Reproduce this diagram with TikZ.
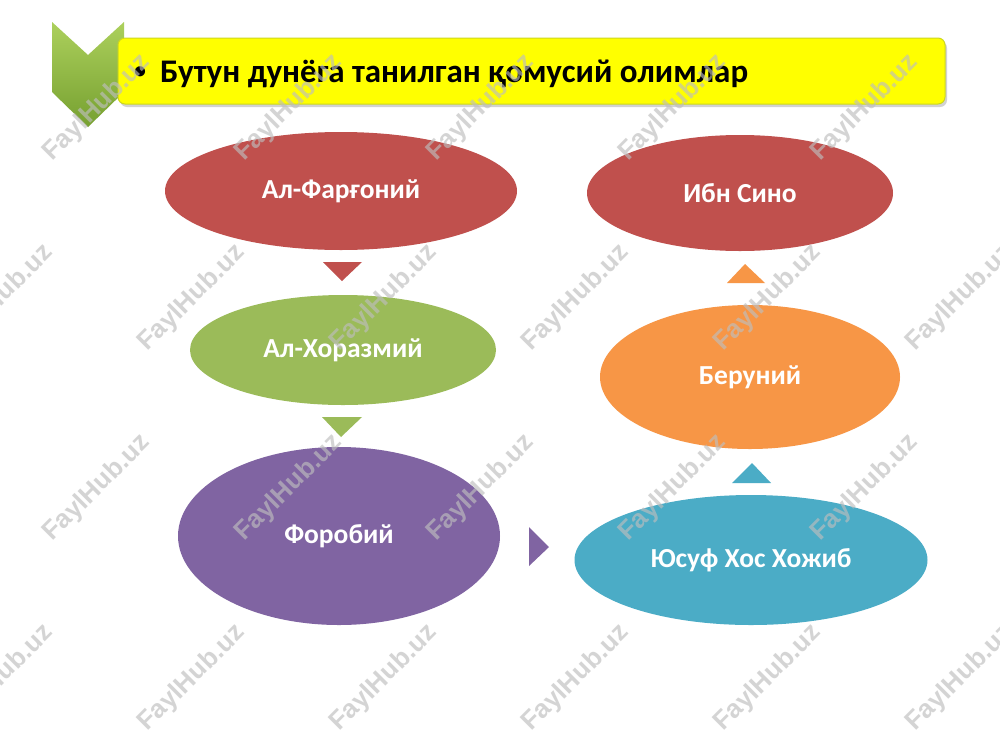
\documentclass[tikz,border=0pt]{standalone}
\usepackage{fontspec}
\setmainfont{Carlito}
\newfontfamily\wmfont{Liberation Sans}
\usetikzlibrary{shapes.geometric,shadows}
\definecolor{cred}{RGB}{192,80,77}
\definecolor{cgreen}{RGB}{155,187,89}
\definecolor{cpurple}{RGB}{128,100,162}
\definecolor{corange}{RGB}{247,150,70}
\definecolor{cteal}{RGB}{75,172,198}
\definecolor{cyellow}{RGB}{255,255,0}
\definecolor{cyborder}{RGB}{205,215,30}
\definecolor{chevtop}{RGB}{172,208,92}
\definecolor{chevbot}{RGB}{118,160,48}
\definecolor{wmgray}{RGB}{190,190,190}
\tikzset{
  blob/.style={ellipse, inner sep=0pt, text=white, font=\fontsize{27.5}{30}\selectfont\bfseries},
  wm/.style={text=wmgray, opacity=0.65, rotate=45, font=\wmfont\fontsize{26}{28}\selectfont\bfseries, inner sep=0pt}
}
\begin{document}
\begin{tikzpicture}[x=1pt,y=-1pt]
\useasboundingbox (0,0) rectangle (1000,750);
\fill[white] (0,0) rectangle (1000,750);
% chevron
\shade[top color=chevtop, bottom color=chevbot] (52,22) -- (88,55) -- (124,22) -- (124,92) -- (88,127) -- (52,92) -- cycle;
% header bar
\node[draw=cyborder, line width=1pt, fill=cyellow, rounded corners=7pt, minimum width=827pt, minimum height=66pt, inner sep=0pt,
  drop shadow={opacity=0.35, shadow xshift=2pt, shadow yshift=-3pt}] (bar) at (531.5,71) {};
\node[anchor=base west, inner sep=0pt, font=\fontsize{24}{26}\selectfont\bfseries] (bul) at (134,78) {\textbullet};
\node[anchor=base west, inner sep=0pt, font=\fontsize{33}{36}\selectfont\bfseries] (title) at (160,82) {Бутун дунёга танилган қомусий олимлар};
% ellipses
\node[blob, fill=cred, minimum width=352pt, minimum height=118pt] (farg) at (341,191) {Ал-Фарғоний};
\node[blob, fill=cgreen, minimum width=306pt, minimum height=110pt] (xor) at (343,350) {Ал-Хоразмий};
\node[blob, fill=cpurple, minimum width=322pt, minimum height=178pt] (forob) at (339,536) {Форобий};
\node[blob, fill=cteal, minimum width=353pt, minimum height=130pt] (yusuf) at (751,560) {Юсуф Хос Хожиб};
\node[blob, fill=corange, minimum width=300pt, minimum height=144pt] (ber) at (750,377) {Беруний};
\node[blob, fill=cred, minimum width=306pt, minimum height=116pt] (ibn) at (740,193) {Ибн Сино};
% arrow triangles
\fill[cred] (323,262) -- (362,262) -- (342,281) -- cycle;
\fill[cgreen] (322,417) -- (362,417) -- (341,437) -- cycle;
\fill[cpurple] (529,527) -- (549,547) -- (529,566) -- cycle;
\fill[cteal] (732,483) -- (771,483) -- (752,463) -- cycle;
\fill[corange] (727,283) -- (765,283) -- (745,264) -- cycle;
% watermarks
\foreach \y in {108,488}{
  \foreach \x in {97,289,481,673,865}{
    \node[wm] at (\x,\y) {FaylHub.uz};
  }
}
\foreach \y in {298,678}{
  \foreach \x in {0,192,384,576,768,960}{
    \node[wm] at (\x,\y) {FaylHub.uz};
  }
}
\end{tikzpicture}
\end{document}
